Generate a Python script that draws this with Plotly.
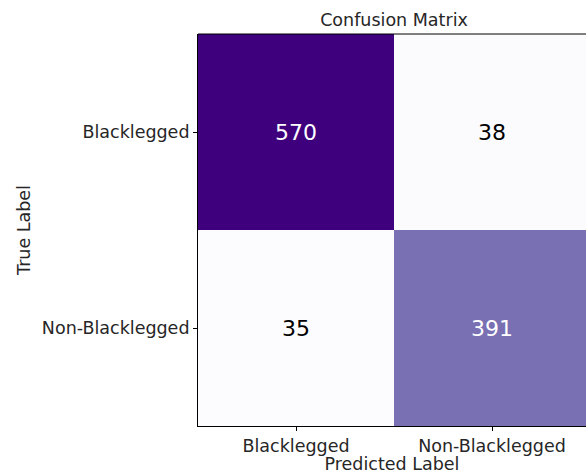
import plotly.graph_objects as go

labels = ["Blacklegged", "Non-Blacklegged"]
matrix = [[570, 38], [35, 391]]
text_colors = [["white", "black"], ["black", "white"]]

W, H = 586, 474
ml, mt, mb = 198, 34, 48
cell = 196.0
plot_w = W - ml
FS = 17.5

fig = go.Figure()
fig.add_trace(go.Heatmap(
    z=matrix, x=[0, 1], y=[0, 1],
    colorscale="Purples", zmin=35, zmax=570, showscale=False,
    hoverinfo="skip",
))
for i in range(2):
    for j in range(2):
        fig.add_annotation(x=j, y=i, text=str(matrix[i][j]), showarrow=False,
                           font=dict(size=22, color=text_colors[i][j], family="DejaVu Sans"))

fig.update_layout(
    width=W, height=H,
    margin=dict(l=ml, r=0, t=mt, b=mb, pad=0),
    paper_bgcolor="white", plot_bgcolor="white",
    font=dict(family="DejaVu Sans", color="#262626", size=FS),
    title=dict(text="Confusion Matrix", x=(ml + ml + 2 * cell) / 2 / W, xanchor="center",
               y=1 - 20 / H, yanchor="middle", font=dict(size=FS, color="#262626")),
    showlegend=False,
)
fig.update_xaxes(range=[-0.5, -0.5 + plot_w / cell], tickvals=[0, 1], ticktext=labels,
                 ticks="outside", ticklen=4, tickcolor="black", showgrid=False, zeroline=False,
                 showline=True, linecolor="black", linewidth=1, mirror=False,
                 tickfont=dict(size=FS, color="#262626"),
                 title=dict(text="Predicted Label", standoff=0, font=dict(size=FS, color="#262626")))
fig.update_yaxes(range=[1.5, -0.5], tickvals=[0, 1], ticktext=labels,
                 ticks="outside", ticklen=4, tickcolor="black", showgrid=False, zeroline=False,
                 showline=True, linecolor="black", linewidth=1,
                 tickfont=dict(size=FS, color="#262626"),
                 title=dict(text="True Label", standoff=6, font=dict(size=FS, color="#262626")))
fig.add_shape(type="line", xref="paper", yref="paper", x0=0, x1=1, y0=1, y1=1,
              line=dict(color="black", width=1))

fig.write_html("out.html")
